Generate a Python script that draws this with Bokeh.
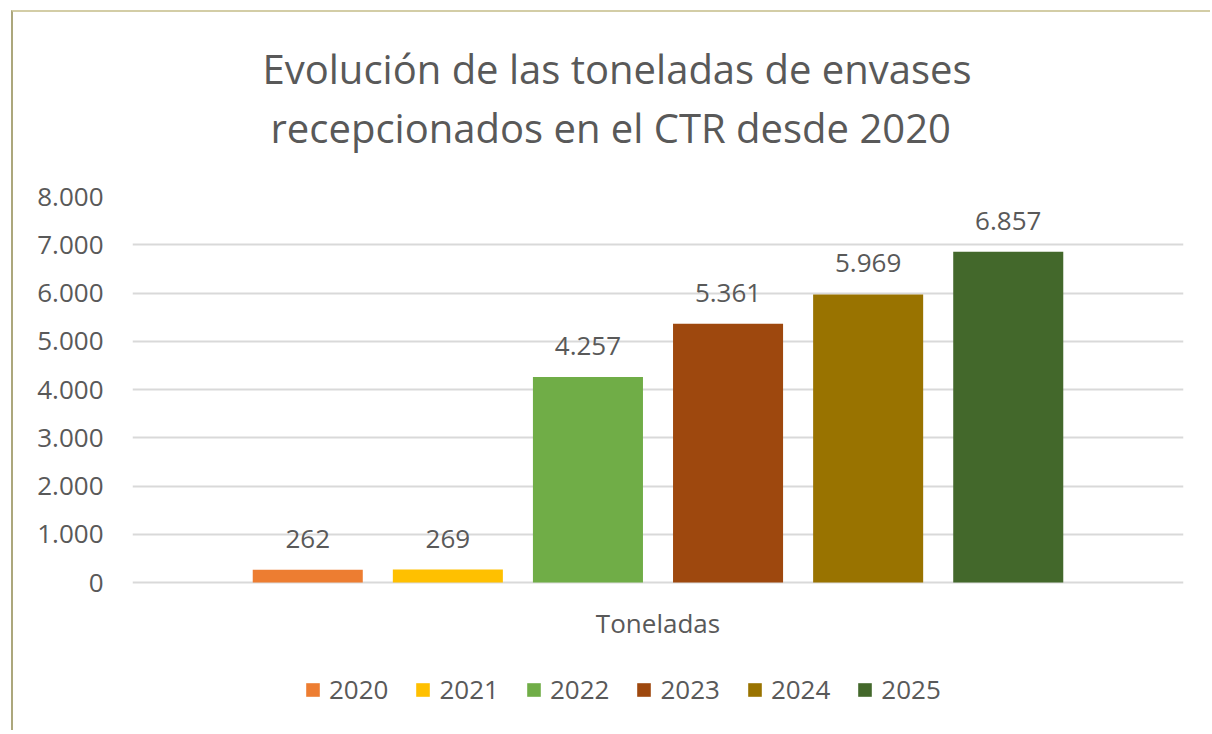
from bokeh.plotting import figure
from bokeh.models import (FactorRange, ColumnDataSource, FixedTicker, Title, Legend,
                          LegendItem, Range1d)
from bokeh.layouts import column
from bokeh.transform import dodge
from bokeh.core.properties import value
from bokeh.embed import file_html
from bokeh.resources import INLINE

# ---- data ----
category = "Toneladas"
years = ["2020", "2021", "2022", "2023", "2024", "2025"]
tonnes = [262, 269, 4257, 5361, 5969, 6857]
value_labels = ["262", "269", "4.257", "5.361", "5.969", "6.857"]
colors = ["#ED7D31", "#FFC000", "#70AD47", "#9E480E", "#997300", "#43682B"]
y_ticks = [0, 1000, 2000, 3000, 4000, 5000, 6000, 7000, 8000]
y_tick_labels = ["0", "1.000", "2.000", "3.000", "4.000", "5.000", "6.000", "7.000", "8.000"]
title_lines = ["Evolución de las toneladas de envases", "recepcionados  en el CTR desde 2020"]

FONT = "Open Sans"
TXT = "#595959"
GRID = "#d9d9d9"

# frame extends below zero to hold category label and legend
p = figure(frame_width=1051, frame_height=534, output_backend="svg", toolbar_location=None,
           x_range=FactorRange(category, range_padding=0), y_range=Range1d(-3067, 8000),
           min_border_left=119, min_border_right=27, min_border_top=184, min_border_bottom=0)
p.background_fill_color = "white"
p.border_fill_color = "white"
p.outline_line_color = None

# titles: spacer first (closest to the frame), then line 2, then line 1
t0 = Title(text=" ", text_font=FONT, text_font_size="1px", standoff=38)
t2 = Title(text=title_lines[1], align="left", offset=138, text_font=FONT, text_font_size="40px",
           text_color=TXT, text_font_style="normal", standoff=2, text_line_height=1.0)
t1 = Title(text=title_lines[0], align="left", offset=130, text_font=FONT, text_font_size="40px",
           text_color=TXT, text_font_style="normal", standoff=2, text_line_height=1.0)
p.add_layout(t0, "above")
p.add_layout(t2, "above")
p.add_layout(t1, "above")

step = 0.1333
offsets = [(i - 2.5) * step for i in range(len(years))]
items = []
for i, yr in enumerate(years):
    src = ColumnDataSource(dict(x=[category], top=[tonnes[i]], lab=[value_labels[i]]))
    r = p.vbar(x=dodge("x", offsets[i], range=p.x_range), top="top", bottom=0,
               width=0.1047, source=src, fill_color=colors[i], line_color=None)
    p.text(x=dodge("x", offsets[i], range=p.x_range), y="top", text="lab", source=src,
           text_align="center", text_baseline="middle", y_offset=-31,
           text_font=value(FONT), text_font_size="26px", text_color=TXT)
    items.append(LegendItem(label=yr, renderers=[r]))

# category label under the baseline
cat_src = ColumnDataSource(dict(x=[category], y=[0], t=[category]))
p.text(x="x", y="y", text="t", source=cat_src, text_align="center", text_baseline="middle",
       y_offset=40, text_font=value(FONT), text_font_size="26px", text_color=TXT)

# axes
p.xaxis.visible = False
p.yaxis.ticker = FixedTicker(ticks=y_ticks)
p.yaxis.major_label_overrides = {t: l for t, l in zip(y_ticks, y_tick_labels)}
p.yaxis.axis_line_color = None
p.yaxis.major_tick_line_color = None
p.yaxis.minor_tick_line_color = None
p.yaxis.major_label_text_font = FONT
p.yaxis.major_label_text_font_size = "26px"
p.yaxis.major_label_text_color = TXT
p.yaxis.major_label_standoff = 23

p.xgrid.grid_line_color = None
p.ygrid.grid_line_color = GRID
p.ygrid.grid_line_width = 2

legend = Legend(items=items, orientation="horizontal", location=(172, 23),
                label_text_font=FONT, label_text_font_size="26px", label_text_color=TXT,
                glyph_width=17, glyph_height=17, label_standoff=8, spacing=26,
                border_line_color=None, background_fill_alpha=0, padding=4, margin=0)
p.add_layout(legend)

layout = column(p, margin=(10, 0, 0, 11),
                styles={"border-left": "2px solid #aca77c", "border-top": "2px solid #d3cda6"})

open("out.html", "w").write(file_html(layout, INLINE))
